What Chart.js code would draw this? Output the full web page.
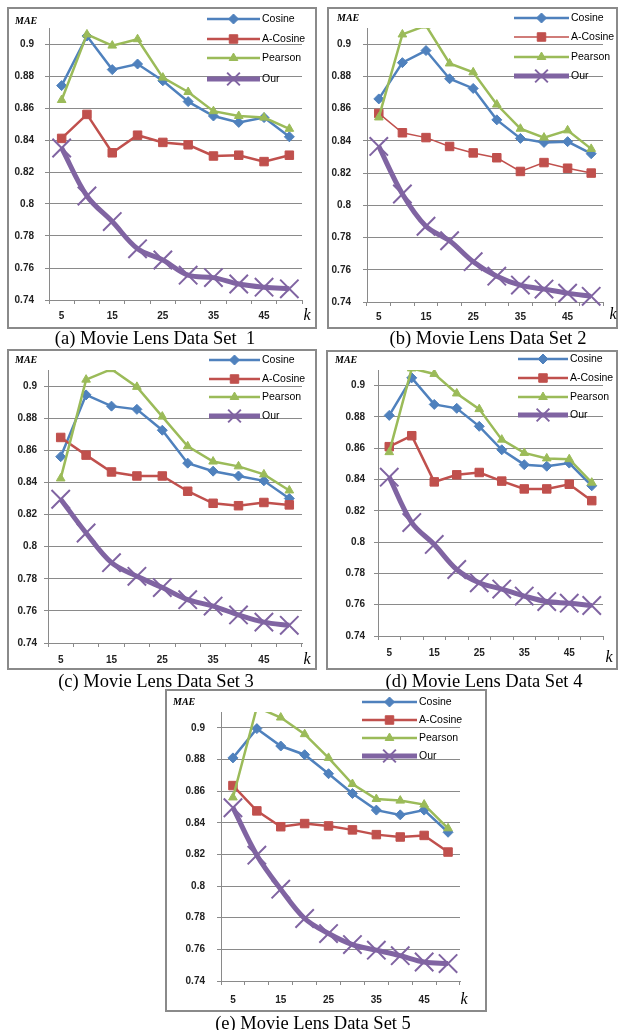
<!DOCTYPE html>
<html lang="en">
<head>
<meta charset="UTF-8">
<title>MAE on the Movie Lens data sets</title>
<script src="https://cdn.jsdelivr.net/npm/chart.js@4"></script>
<style>
  body { margin: 0; background: #fff; width: 621px; height: 1030px; position: relative; overflow: hidden; }
  .panel { position: absolute; box-sizing: border-box; border: 2px solid #8a8a8a; }
  canvas { position: absolute; }
  .caption {
    position: absolute; white-space: pre; color: #000;
    font-family: "Liberation Serif", "Times New Roman", serif; font-size: 18.5px;
    transform: translate(-50%, -50%);
  }
</style>
</head>
<body>
<script>
// x categories (neighbourhood size k) and y axis
const kValues = ['5', '10', '15', '20', '25', '30', '35', '40', '45', '50'];
const yTickValues = [0.74, 0.76, 0.78, 0.8, 0.82, 0.84, 0.86, 0.88, 0.9];
const yMin = 0.74;
const yMax = 0.91;
const seriesNames = ['Cosine', 'A-Cosine', 'Pearson', 'Our'];

// Data set 1
const cosine1  = [0.874, 0.905, 0.884, 0.8875, 0.877, 0.864, 0.855, 0.851, 0.854, 0.842];
const aCosine1 = [0.841, 0.856, 0.832, 0.843, 0.8385, 0.837, 0.830, 0.8305, 0.8265, 0.8305];
const pearson1 = [0.865, 0.906, 0.899, 0.903, 0.879, 0.870, 0.858, 0.855, 0.854, 0.847];
const our1     = [0.835, 0.805, 0.789, 0.772, 0.765, 0.7555, 0.754, 0.750, 0.748, 0.747];

// Data set 2
const cosine2  = [0.866, 0.8885, 0.896, 0.8785, 0.8725, 0.853, 0.8415, 0.839, 0.8395, 0.832];
const aCosine2 = [0.857, 0.845, 0.842, 0.8365, 0.8325, 0.8295, 0.821, 0.8265, 0.823, 0.820];
const pearson2 = [0.8545, 0.906, 0.9115, 0.888, 0.8825, 0.8625, 0.8475, 0.842, 0.8465, 0.835];
const our2     = [0.8365, 0.807, 0.787, 0.778, 0.765, 0.756, 0.7505, 0.748, 0.7455, 0.7435];

// Data set 3
const cosine3  = [0.856, 0.8945, 0.8875, 0.8855, 0.8725, 0.852, 0.847, 0.844, 0.841, 0.830];
const aCosine3 = [0.868, 0.857, 0.8465, 0.844, 0.844, 0.8345, 0.827, 0.8255, 0.8275, 0.826];
const pearson3 = [0.8425, 0.904, 0.9105, 0.8995, 0.881, 0.8625, 0.853, 0.850, 0.845, 0.835];
const our3     = [0.8295, 0.8085, 0.790, 0.7815, 0.7745, 0.767, 0.763, 0.7575, 0.753, 0.751];

// Data set 4
const cosine4  = [0.881, 0.905, 0.888, 0.8855, 0.874, 0.859, 0.8495, 0.8485, 0.8505, 0.836];
const aCosine4 = [0.861, 0.868, 0.8385, 0.843, 0.8445, 0.839, 0.834, 0.834, 0.837, 0.8265];
const pearson4 = [0.8575, 0.911, 0.9075, 0.895, 0.885, 0.8655, 0.857, 0.8535, 0.853, 0.838];
const our4     = [0.8415, 0.8125, 0.7985, 0.7825, 0.774, 0.770, 0.7655, 0.762, 0.761, 0.7595];

// Data set 5
const cosine5  = [0.881, 0.8995, 0.8885, 0.883, 0.871, 0.8585, 0.848, 0.845, 0.848, 0.834];
const aCosine5 = [0.8635, 0.8475, 0.8375, 0.8395, 0.838, 0.8355, 0.8325, 0.831, 0.832, 0.8215];
const pearson5 = [0.856, 0.913, 0.9065, 0.896, 0.881, 0.8645, 0.855, 0.854, 0.8515, 0.8365];
const our5     = [0.8495, 0.8195, 0.798, 0.7795, 0.770, 0.763, 0.7595, 0.756, 0.752, 0.751];

// look of each series (Excel 2007 style)
const seriesStyle = [
  { color: '#4F81BD', width: 2.5, point: 'rectRot', radius: 5, legendRadius: 5, pointBorder: 1, order: 3, tension: 0 },
  { color: '#C0504D', width: 2.5, point: 'rect', radius: 6, legendRadius: 6, pointBorder: 1, order: 2, tension: 0 },
  { color: '#9BBB59', width: 2.5, point: 'triangle', radius: 5, legendRadius: 5, pointBorder: 1, order: 1, tension: 0 },
  { color: '#8064A2', width: 5, point: 'crossRot', radius: 13, legendRadius: 9, pointBorder: 2, order: 0, tension: 0.35 }
];

// page layout of the five panels (page pixels)
const panels = [
  { caption: '(a) Movie Lens Data Set  1', capPos: [155, 338], series: [cosine1, aCosine1, pearson1, our1],
    box: [7, 7, 317, 329], area: [49, 28, 308, 300], yGap: 15, xGap: 16,
    legendX: [207, 260], legendY: [19, 39, 58, 79], mae: [15, 21], kPos: [307, 316], aWidth: 2.5 },
  { caption: '(b) Movie Lens Data Set 2', capPos: [488, 338], series: [cosine2, aCosine2, pearson2, our2],
    box: [327, 7, 618, 329], area: [367, 28, 615, 302], yGap: 16, xGap: 15,
    legendX: [514, 569], legendY: [18, 37, 57, 76], mae: [337, 18], kPos: [613, 315], aWidth: 1.5 },
  { caption: '(c) Movie Lens Data Set 3', capPos: [156, 681], series: [cosine3, aCosine3, pearson3, our3],
    box: [7, 349, 317, 670], area: [48, 370, 303, 643], yGap: 11, xGap: 17,
    legendX: [209, 260], legendY: [360, 379, 397, 416], mae: [15, 360], kPos: [307, 660], aWidth: 2.5 },
  { caption: '(d) Movie Lens Data Set 4', capPos: [484, 681], series: [cosine4, aCosine4, pearson4, our4],
    box: [326, 350, 618, 670], area: [378, 370, 606, 636], yGap: 13, xGap: 17,
    legendX: [518, 568], legendY: [359, 378, 397, 415], mae: [335, 360], kPos: [609, 658], aWidth: 2.5 },
  { caption: '(e) Movie Lens Data Set 5', capPos: [313, 1023], series: [cosine5, aCosine5, pearson5, our5],
    box: [165, 689, 487, 1012], area: [221, 712, 460, 981], yGap: 16, xGap: 19,
    legendX: [362, 417], legendY: [702, 720, 738, 756], mae: [173, 702], kPos: [464, 1000], aWidth: 2.5 }
];

const gridGray = '#8a8a8a';
const tickFont = { family: 'Liberation Sans', size: 10, weight: 'bold' };

// draws the MAE / k axis titles and the legend inside the plot
const decorPlugin = {
  id: 'decor',
  afterDraw(chart, args, opts) {
    const p = opts.panel;
    const ctx = chart.ctx;
    const ox = p.box[0], oy = p.box[1];
    ctx.save();
    ctx.fillStyle = '#000';
    ctx.textBaseline = 'middle';
    ctx.textAlign = 'left';
    ctx.font = 'italic bold 10px "Liberation Serif"';
    ctx.fillText('MAE', p.mae[0] - ox, p.mae[1] - oy);
    ctx.font = 'italic 16px "Liberation Serif"';
    ctx.textAlign = 'center';
    ctx.fillText('k', p.kPos[0] - ox, p.kPos[1] - oy);

    chart.data.datasets.forEach((ds, i) => {
      const y = p.legendY[i] - oy;
      const x0 = p.legendX[0] - ox, x1 = p.legendX[1] - ox;
      ctx.strokeStyle = ds.borderColor;
      ctx.lineWidth = ds.borderWidth;
      ctx.beginPath();
      ctx.moveTo(x0, y);
      ctx.lineTo(x1, y);
      ctx.stroke();
      ctx.fillStyle = ds.pointBackgroundColor;
      ctx.strokeStyle = ds.pointBorderColor;
      ctx.lineWidth = ds.pointBorderWidth;
      Chart.helpers.drawPoint(ctx, {
        pointStyle: ds.pointStyle, radius: seriesStyle[i].legendRadius, rotation: 0, borderWidth: ds.pointBorderWidth
      }, (x0 + x1) / 2, y);
      ctx.fillStyle = '#000';
      ctx.font = '10.5px "Liberation Sans"';
      ctx.textAlign = 'left';
      ctx.fillText(ds.label, x1 + 2, y);
    });
    ctx.restore();
  }
};

panels.forEach(p => {
  const w = p.box[2] - p.box[0];
  const h = p.box[3] - p.box[1];

  const frame = document.createElement('div');
  frame.className = 'panel';
  Object.assign(frame.style, { left: p.box[0] + 'px', top: p.box[1] + 'px', width: w + 'px', height: h + 'px' });
  document.body.appendChild(frame);

  const canvas = document.createElement('canvas');
  canvas.width = w;
  canvas.height = h;
  Object.assign(canvas.style, { left: p.box[0] + 'px', top: p.box[1] + 'px', width: w + 'px', height: h + 'px' });
  document.body.appendChild(canvas);

  const cap = document.createElement('div');
  cap.className = 'caption';
  cap.textContent = p.caption;
  cap.style.left = p.capPos[0] + 'px';
  cap.style.top = p.capPos[1] + 'px';
  document.body.appendChild(cap);

  const datasets = p.series.map((values, i) => {
    const s = seriesStyle[i];
    return {
      label: seriesNames[i],
      data: values,
      borderColor: s.color,
      backgroundColor: s.color,
      borderWidth: i === 1 ? p.aWidth : s.width,
      pointStyle: s.point,
      pointRadius: s.radius,
      pointBackgroundColor: s.color,
      pointBorderColor: s.color,
      pointBorderWidth: s.pointBorder,
      tension: s.tension,
      order: s.order,
      clip: { left: 20, top: 0, right: 20, bottom: 20 }
    };
  });

  new Chart(canvas.getContext('2d'), {
    type: 'line',
    data: { labels: kValues, datasets: datasets },
    plugins: [decorPlugin],
    options: {
      responsive: false,
      animation: false,
      devicePixelRatio: 1,
      layout: {
        padding: { left: 0, top: p.area[1] - p.box[1], right: p.box[2] - p.area[2], bottom: 0 }
      },
      plugins: {
        legend: { display: false },
        tooltip: { enabled: false },
        decor: { panel: p }
      },
      scales: {
        x: {
          type: 'category',
          offset: true,
          afterFit(scale) { scale.height = p.box[3] - p.area[3]; },
          grid: { offset: true, drawOnChartArea: false, drawTicks: true, tickLength: 4, color: gridGray },
          border: { color: gridGray, width: 1 },
          ticks: {
            autoSkip: false, maxRotation: 0, padding: p.xGap - 10, color: '#222', font: tickFont,
            callback(value, index) { return index % 2 === 0 ? this.getLabelForValue(value) : ''; }
          }
        },
        y: {
          type: 'linear',
          min: yMin,
          max: yMax,
          afterFit(scale) { scale.width = p.area[0] - p.box[0]; },
          afterBuildTicks(scale) { scale.ticks = yTickValues.map(v => ({ value: v })); },
          grid: { color: gridGray, lineWidth: 1, drawTicks: true, tickLength: 4 },
          border: { color: gridGray, width: 1 },
          ticks: {
            padding: p.yGap - 4, color: '#222', font: tickFont,
            callback: v => String(+v.toFixed(2))
          }
        }
      }
    }
  });
});
</script>
</body>
</html>
